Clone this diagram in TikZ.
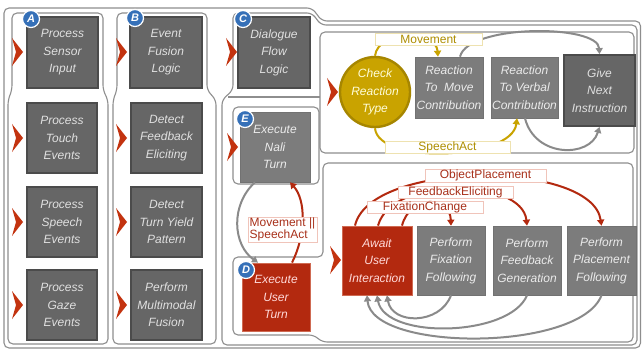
\documentclass[tikz,border=0pt]{standalone}
\usepackage{fontspec}
\setmainfont{Liberation Sans}
\usetikzlibrary{arrows.meta}

\definecolor{frameGray}{HTML}{8E8E8E}
\definecolor{boxDark}{HTML}{666666}
\definecolor{boxDarkEdge}{HTML}{4B4B4B}
\definecolor{boxMid}{HTML}{7C7C7C}
\definecolor{redFill}{HTML}{B3290F}
\definecolor{redEdge}{HTML}{CF6A52}
\definecolor{goldFill}{HTML}{C9A300}
\definecolor{goldEdge}{HTML}{A68600}
\definecolor{goldText}{HTML}{AE8E00}
\definecolor{redText}{HTML}{A8301A}
\definecolor{goldLabelEdge}{HTML}{EEE2B0}
\definecolor{redLabelEdge}{HTML}{F0C4BA}
\definecolor{badgeBlue}{HTML}{3570B8}
\definecolor{chevRed}{HTML}{C3330F}
\definecolor{arrowGray}{HTML}{8A8A8A}

\tikzset{
  frame/.style={draw=frameGray, line width=1.1pt, rounded corners=5pt},
  boxtext/.style={font=\itshape\fontsize{12}{17.5}\selectfont, align=center, inner sep=0pt},
  darkbox/.style={boxtext, draw=boxDarkEdge, line width=1.8pt, fill=boxDark, text=white!88!black},
  midbox/.style={boxtext, draw=boxMid!92!black, line width=0.6pt, fill=boxMid, text=white!92!black},
  redbox/.style={boxtext, draw=redEdge, line width=0.8pt, fill=redFill, text=red!15!white},
  goldcircle/.style={boxtext, circle, draw=goldEdge, line width=2.4pt, fill=goldFill, text=yellow!15!white, minimum size=70pt},
  glabel/.style={draw=goldLabelEdge, line width=0.9pt, fill=white, text=goldText, font=\fontsize{12}{12}\selectfont, inner sep=0pt},
  rlabel/.style={draw=redLabelEdge, line width=0.9pt, fill=white, text=redText, font=\fontsize{12}{12}\selectfont, inner sep=0pt},
  badge/.style={circle, fill=badgeBlue, draw=white, line width=1.2pt, minimum size=17pt, inner sep=0pt, text=white, font=\bfseries\itshape\fontsize{11}{11}\selectfont},
  garrow/.style={draw=goldFill, line width=2pt, -{Triangle[length=6pt,width=7pt]}},
  rarrow/.style={draw=redFill, line width=2pt, -{Triangle[length=6pt,width=7pt]}},
  grarrow/.style={draw=arrowGray, line width=2pt, -{Triangle[length=6pt,width=7pt]}},
  chev/.pic={\fill[chevRed] (0,-14) -- (11,0) -- (0,14) -- (4,0) -- cycle;}
}

\begin{document}
\begin{tikzpicture}[x=1pt,y=-1pt]
\useasboundingbox (0,0) rectangle (642,350);
\fill[white] (0,0) rectangle (642,350);

% ---------- frames ----------
\draw[frame] (4,348) -- (4,8) -- (312,8) -- (322,21) -- (640.5,21) -- (640.5,348) -- cycle;
\draw[frame] (12,90) -- (12,13) -- (103,13) -- (103,90) -- (108,100) -- (108,344) -- (8,344) -- (8,100) -- cycle;
\draw[frame] (117,90) -- (117,13) -- (207,13) -- (207,90) -- (216,100) -- (216,344) -- (113,344) -- (113,100) -- cycle;
\draw[frame] (233,90) -- (233,13) -- (312,13) -- (321,25) -- (637,25) -- (637,345) -- (222,345) -- (222,100) -- cycle;
\draw[frame] (320,32) rectangle (634,153);
\draw[frame] (228,97) -- (320,97);
\draw[frame] (233,107) rectangle (319,184);
\draw[frame] (233,257) -- (323,257) -- (323,163) -- (633,163) -- (633,342) -- (322,342) -- (314,335) -- (233,335) -- cycle;

% ---------- column A ----------
\node[darkbox, minimum width=71pt, minimum height=71pt] (psi) at (62.5,52.5) {Process\\Sensor\\Input};
\node[darkbox, minimum width=70pt, minimum height=70pt] (pte) at (62,138) {Process\\Touch\\Events};
\node[darkbox, minimum width=70pt, minimum height=70pt] (pse) at (62,222) {Process\\Speech\\Events};
\node[darkbox, minimum width=70pt, minimum height=70pt] (pge) at (62,305) {Process\\Gaze\\Events};

% ---------- column B ----------
\node[darkbox, minimum width=72pt, minimum height=71pt] (efl) at (166,52.5) {Event\\Fusion\\Logic};
\node[darkbox, minimum width=71pt, minimum height=70pt] (dfe) at (166.5,138) {Detect\\Feedback\\Eliciting};
\node[darkbox, minimum width=71pt, minimum height=70pt] (dty) at (166.5,222) {Detect\\Turn Yield\\Pattern};
\node[darkbox, minimum width=71pt, minimum height=70pt] (pmf) at (166.5,305) {Perform\\Multimodal\\Fusion};

% ---------- column C ----------
\node[darkbox, minimum width=72pt, minimum height=71pt] (dfl) at (274,52.5) {Dialogue\\Flow\\Logic};
\node[midbox, minimum width=70pt, minimum height=70pt] (nali) at (275,147) {Execute\\Nali\\Turn};
\node[redbox, minimum width=68pt, minimum height=68pt] (user) at (276,297) {Execute\\User\\Turn};

% reaction panel
\node[goldcircle] (chk) at (375,92) {Check\\Reaction\\Type};
\node[midbox, minimum width=68pt, minimum height=61pt] (rm) at (449,87.5) {Reaction\\To~~Move\\Contribution};
\node[midbox, minimum width=67pt, minimum height=61pt] (rv) at (524.5,87.5) {Reaction\\To Verbal\\Contribution};
\node[darkbox, minimum width=71pt, minimum height=71pt] (give) at (599.5,90.5) {Give\\Next\\Instruction};

% interaction panel
\node[redbox, minimum width=70pt, minimum height=69pt] (await) at (377,260.5) {Await\\User\\Interaction};
\node[midbox, minimum width=68pt, minimum height=69pt] (fix) at (451,260.5) {Perform\\Fixation\\Following};
\node[midbox, minimum width=68pt, minimum height=69pt] (feed) at (527,260.5) {Perform\\Feedback\\Generation};
\node[midbox, minimum width=69pt, minimum height=69pt] (place) at (601.5,260.5) {Perform\\Placement\\Following};

% ---------- connectors ----------
\draw[garrow] (chk.north) .. controls (378,30) and (436,30) .. ([xshift=-11pt]rm.north);
\draw[grarrow] ([xshift=11pt]rm.north) .. controls (468,24) and (598,24) .. (give.north);
\draw[garrow] (chk.south) .. controls (378,165) and (512,160) .. ([xshift=-7.5pt]rv.south);
\draw[grarrow] ([xshift=0.5pt]rv.south) .. controls (535,158) and (590,158) .. (give.south);

\draw[rarrow] ([xshift=-22pt]await.north) .. controls (370,160) and (592,160) .. (place.north);
\draw[rarrow] ([xshift=1pt]await.north) .. controls (392,175) and (522,178) .. (feed.north);
\draw[rarrow] ([xshift=25pt]await.north) .. controls (410,195) and (450,195) .. (fix.north);

\draw[grarrow] (fix.south) .. controls (440,325) and (392,325) .. ([xshift=10pt]await.south);
\draw[grarrow] (feed.south) .. controls (510,337) and (385,340) .. (await.south);
\draw[grarrow] (place.south) .. controls (580,352) and (372,352) .. ([xshift=-10pt]await.south);

\draw[grarrow] ([xshift=-20pt]nali.south) .. controls (230,205) and (233,245) .. ([xshift=-18pt]user.north);
\draw[rarrow] ([xshift=16pt]user.north) .. controls (306,235) and (306,200) .. ([xshift=15pt]nali.south);

% ---------- connector labels ----------
\node[glabel, minimum width=107pt, minimum height=12pt] (lmove) at (428.5,39) {Movement};
\node[glabel, minimum width=125pt, minimum height=12pt] (lspeech) at (447.5,147.5) {SpeechAct};
\node[rlabel, minimum width=121pt, minimum height=13pt] (lobj) at (485.5,175.5) {ObjectPlacement};
\node[rlabel, minimum width=115pt, minimum height=12pt] (lfeed) at (455.5,192) {FeedbackEliciting};
\node[rlabel, minimum width=116pt, minimum height=11pt] (lfix) at (425,207.5) {FixationChange};
\node[rlabel, minimum width=69pt, minimum height=25pt, align=left, font=\fontsize{12}{12}\selectfont] (lms) at (282.5,229.5) {Movement ||\\SpeechAct};

% ---------- entry markers ----------
\foreach \x/\y in {12/52, 12/138, 12/222, 12/305, 116/52, 116/138, 116/222, 116/305, 226/52, 227/147, 327/92, 330/260}
  \pic at (\x,\y) {chev};

% ---------- badges ----------
\node[badge] (ba) at (31,19) {A};
\node[badge] (bb) at (135,18) {B};
\node[badge] (bc) at (243,19) {C};
\node[badge] (be) at (245,119) {E};
\node[badge] (bd) at (246,270) {D};
\end{tikzpicture}
\end{document}
